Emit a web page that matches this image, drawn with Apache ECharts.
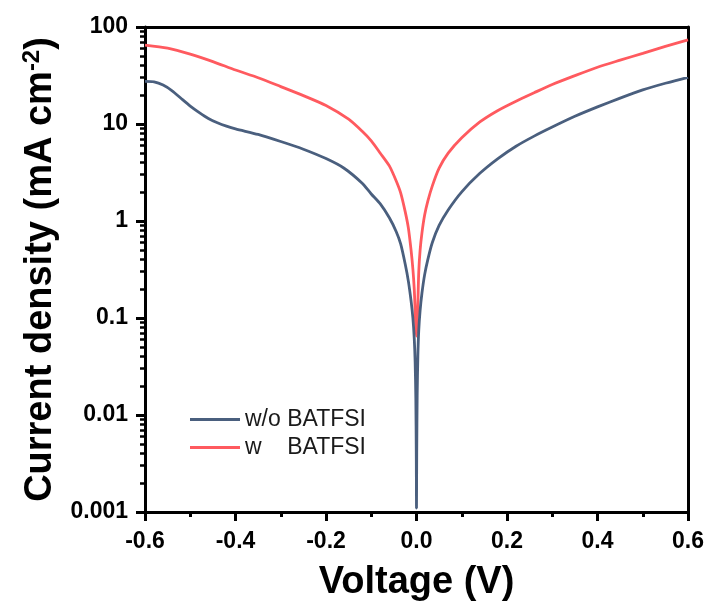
<!DOCTYPE html>
<html><head><meta charset="utf-8">
<script src="https://cdn.jsdelivr.net/npm/echarts@6/dist/echarts.min.js"></script>
<style>html,body{margin:0;padding:0;background:#fff}#c{width:710px;height:603px}</style>
</head><body><div id="c"></div>
<script>
// ---- data ----
const voltWO = [-0.6,-0.58,-0.56,-0.54,-0.52,-0.5,-0.48,-0.46,-0.44,-0.42,-0.4,-0.35,-0.3,-0.25,-0.2,-0.16,-0.12,-0.1,-0.08,-0.06,-0.045,-0.035,-0.025,-0.018,-0.012,-0.008,-0.005,-0.003,-0.0015,-0.0005,0,0.0005,0.0015,0.003,0.005,0.008,0.012,0.018,0.025,0.035,0.05,0.07,0.1,0.14,0.18,0.22,0.26,0.3,0.35,0.4,0.45,0.5,0.55,0.6];
const curWO  = [27.5,27.2,25.2,22,18.3,15.3,13.1,11.4,10.3,9.5,8.9,7.8,6.6,5.5,4.4,3.5,2.45,1.9,1.5,1.08,0.78,0.58,0.36,0.24,0.15,0.1,0.062,0.035,0.015,0.004,0.0011,0.004,0.016,0.04,0.075,0.12,0.18,0.28,0.4,0.6,0.9,1.3,2.0,3.1,4.4,5.9,7.5,9.3,12.0,15.0,18.5,22.5,26.3,30.3];
const voltW  = [-0.6,-0.55,-0.5,-0.45,-0.4,-0.35,-0.3,-0.25,-0.2,-0.15,-0.12,-0.1,-0.08,-0.06,-0.045,-0.035,-0.025,-0.018,-0.012,-0.008,-0.005,-0.003,-0.0015,0,0.0015,0.003,0.005,0.008,0.012,0.018,0.025,0.035,0.05,0.07,0.1,0.14,0.18,0.22,0.26,0.3,0.35,0.4,0.45,0.5,0.55,0.6];
const curW   = [65,60.5,52.5,44,36,30,24.3,19.6,15.5,11.2,8.4,6.7,5.0,3.7,2.6,1.95,1.25,0.85,0.5,0.32,0.2,0.12,0.08,0.065,0.09,0.14,0.3,0.5,0.75,1.15,1.6,2.3,3.5,5.0,7.2,10.5,13.8,17.2,21,25.5,31.5,38.5,45.5,53.5,63,73.5];
const seriesNames = ['w/o BATFSI', 'w    BATFSI'];
const yTickLabels = ['0.001','0.01','0.1','1','10','100'];
const yMinorMultipliers = [2,3,4,5,6,7,8,9];
const yDecades = [0.001,0.01,0.1,1,10];
const xMin = -0.6, xMax = 0.6, xStep = 0.2;

const FONT = '"Liberation Sans", Arial, sans-serif';
const minorTickValues = [];
yDecades.forEach(d => yMinorMultipliers.forEach(m => minorTickValues.push(d*m)));

const chart = echarts.init(document.getElementById('c'), null, {renderer:'canvas'});
const axisLine = {show:true, onZero:false, lineStyle:{color:'#000', width:3}};
chart.setOption({
  animation:false,
  backgroundColor:'#fff',
  grid:{left:145, right:22, top:27, bottom:91, containLabel:false, outerBoundsMode:'none'},
  legend:{
    data:seriesNames.map(n=>({name:n, icon:'rect'})), orient:'vertical', left:185, top:403,
    itemWidth:50, itemHeight:3, itemGap:5,
    textStyle:{fontFamily:FONT, fontSize:23, color:'#1a1a1a'}
  },
  xAxis:[{
    type:'value', min:xMin, max:xMax, interval:xStep,
    axisLine:axisLine,
    axisTick:{show:true, inside:false, length:9, lineStyle:{color:'#000', width:3}},
    minorTick:{show:true, splitNumber:2, length:5, lineStyle:{color:'#000', width:3}},
    splitLine:{show:false},
    axisLabel:{margin:18, fontFamily:FONT, fontSize:23, fontWeight:'bold', color:'#000',
      formatter:v=>v.toFixed(1)},
    name:'Voltage (V)', nameLocation:'middle', nameGap:52,
    nameTextStyle:{fontFamily:FONT, fontSize:38, fontWeight:'bold', color:'#000'}
  },{
    type:'value', min:xMin, max:xMax, position:'top',
    axisLine:axisLine, axisTick:{show:false}, axisLabel:{show:false}, splitLine:{show:false}
  }],
  yAxis:[{
    type:'log', logBase:10, min:0.001, max:100,
    axisLine:axisLine,
    axisTick:{show:true, inside:false, length:9, lineStyle:{color:'#000', width:3}},
    minorTick:{show:false},
    splitLine:{show:false},
    axisLabel:{margin:17, fontFamily:FONT, fontSize:23, fontWeight:'bold', color:'#000',
      formatter:v=>yTickLabels[Math.round(Math.log10(v))+3]},
    name:'Current density (mA cm{sup|-2})', nameLocation:'middle', nameGap:78,
    nameTextStyle:{fontFamily:FONT, fontSize:38, fontWeight:'bold', color:'#000',
      rich:{sup:{fontFamily:FONT, fontSize:24, fontWeight:'bold', color:'#000', verticalAlign:'top', padding:[0,0,16,0]}}}
  },{
    type:'log', logBase:10, min:0.001, max:100, position:'right',
    axisLine:axisLine, axisTick:{show:false}, axisLabel:{show:false}, splitLine:{show:false}
  },{
    type:'log', logBase:10, min:0.001, max:100, position:'left', offset:0,
    axisLine:{show:false, onZero:false},
    axisTick:{show:true, inside:false, length:5, customValues:minorTickValues, lineStyle:{color:'#000', width:2.5}},
    axisLabel:{show:false}, splitLine:{show:false}
  }],
  series:[{
    name:seriesNames[0], type:'line', symbol:'none', smooth:0.25,
    data:voltWO.map((v,i)=>[v,curWO[i]]),
    lineStyle:{color:'#4A5F7E', width:2.8}, itemStyle:{color:'#4A5F7E'}, z:3
  },{
    name:seriesNames[1], type:'line', symbol:'none', smooth:0.25,
    data:voltW.map((v,i)=>[v,curW[i]]),
    lineStyle:{color:'#FF5A5F', width:2.8}, itemStyle:{color:'#FF5A5F'}, z:2
  }]
});
</script></body></html>
